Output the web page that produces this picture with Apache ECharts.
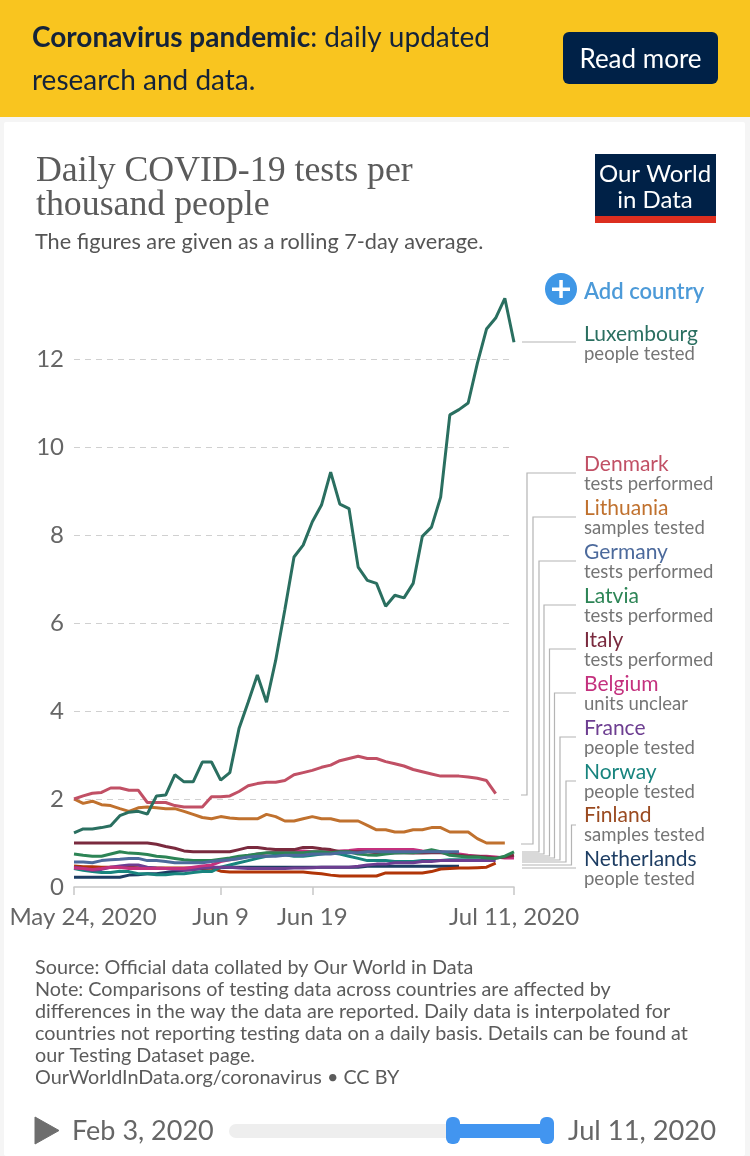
<!DOCTYPE html>
<html><head><meta charset="utf-8">
<style>html,body{margin:0;padding:0;background:#f5f5f5}#c{width:750px;height:1156px}</style>
<script src="https://cdn.jsdelivr.net/npm/echarts@6/dist/echarts.min.js"></script>
</head><body><div id="c"></div>
<script>
const startDate = Date.UTC(2020,4,24);
const dates = Array.from({length:49},(_,i)=>new Date(startDate+i*864e5).toISOString().slice(0,10));
const tickLabels = {'2020-05-24':'May 24, 2020','2020-06-09':'Jun 9','2020-06-19':'Jun 19','2020-07-11':'Jul 11, 2020'};
const luxembourg = [1.23,1.32,1.32,1.35,1.39,1.62,1.7,1.72,1.66,2.07,2.09,2.55,2.39,2.39,2.84,2.84,2.43,2.6,3.6,4.2,4.82,4.2,5.15,6.3,7.5,7.77,8.3,8.68,9.43,8.7,8.6,7.27,6.97,6.9,6.38,6.63,6.57,6.9,7.97,8.18,8.86,10.73,10.85,11,11.9,12.68,12.93,13.38,12.38];
const denmark = [2.0,2.07,2.13,2.15,2.25,2.25,2.2,2.2,1.92,1.92,1.92,1.85,1.82,1.82,1.82,2.05,2.05,2.07,2.17,2.3,2.35,2.38,2.38,2.42,2.55,2.6,2.65,2.72,2.77,2.87,2.92,2.97,2.92,2.92,2.85,2.8,2.75,2.67,2.62,2.57,2.52,2.52,2.52,2.5,2.47,2.42,2.12];
const lithuania = [2.0,1.9,1.95,1.87,1.85,1.78,1.72,1.8,1.82,1.8,1.78,1.78,1.72,1.65,1.58,1.55,1.6,1.57,1.55,1.55,1.55,1.65,1.6,1.5,1.5,1.55,1.6,1.55,1.55,1.5,1.5,1.5,1.4,1.3,1.3,1.25,1.25,1.3,1.3,1.35,1.35,1.25,1.25,1.25,1.1,1.0,1.0,1.0];
const germany = [.57,.57,.55,.6,.62,.63,.65,.65,.6,.6,.58,.55,.55,.55,.55,.58,.6,.62,.65,.68,.7,.7,.7,.72,.72,.72,.75,.75,.75,.78,.78,.78,.8,.8,.8,.8,.8,.8,.8,.8,.8,.8,.8];
const latvia = [.75,.72,.7,.7,.75,.8,.77,.76,.74,.7,.68,.65,.62,.6,.6,.6,.63,.66,.7,.72,.75,.78,.78,.78,.78,.78,.8,.8,.78,.8,.8,.75,.73,.72,.75,.77,.78,.78,.8,.85,.8,.72,.7,.68,.68,.66,.65,.7,.8];
const italy = [1,1,1,1,1,1,1,1,1,.97,.92,.88,.82,.8,.8,.8,.8,.8,.85,.9,.9,.87,.85,.85,.85,.9,.9,.87,.85,.8,.8,.8,.8,.78,.77,.78,.78,.77,.77,.78,.78,.76,.72,.7,.7,.68,.66,.68,.72];
const belgium = [.43,.42,.4,.42,.45,.45,.42,.42,.42,.42,.42,.42,.42,.45,.48,.5,.58,.62,.65,.7,.75,.77,.8,.82,.82,.82,.8,.8,.8,.82,.83,.85,.85,.85,.85,.85,.85,.85,.82,.8,.8,.78,.75,.72,.7,.7,.68,.66,.66];
const france = [.45,.42,.38,.4,.45,.48,.5,.5,.45,.43,.42,.4,.38,.4,.43,.45,.45,.45,.43,.42,.42,.42,.42,.42,.43,.43,.44,.45,.45,.45,.45,.47,.5,.52,.52,.55,.55,.55,.58,.58,.6,.6,.6,.6,.6,.6,.6];
const norway = [.42,.38,.35,.33,.33,.36,.35,.3,.3,.28,.28,.3,.3,.33,.35,.35,.45,.5,.55,.6,.65,.7,.72,.73,.7,.7,.72,.75,.78,.75,.7,.65,.6,.6,.6,.58,.58,.58,.6,.6,.6,.62,.62,.62,.62,.6];
const finland = [.48,.46,.46,.45,.45,.45,.45,.44,.43,.43,.43,.43,.43,.43,.43,.43,.36,.34,.34,.34,.34,.34,.34,.34,.34,.34,.32,.3,.27,.25,.25,.25,.25,.25,.32,.32,.32,.32,.32,.35,.41,.42,.43,.43,.44,.45,.54];
const netherlands = [.22,.22,.22,.22,.22,.22,.27,.28,.3,.3,.33,.35,.38,.4,.42,.43,.44,.45,.45,.45,.45,.45,.45,.45,.45,.45,.45,.45,.45,.45,.45,.45,.47,.47,.47,.47,.47,.47,.47,.47,.47,.47,.47];
const yTicks = [0,2,4,6,8,10,12];

const seriesNames = ['Netherlands','Finland','Norway','France','Belgium','Italy','Latvia','Germany','Lithuania','Denmark','Luxembourg'];
const seriesValues = [netherlands,finland,norway,france,belgium,italy,latvia,germany,lithuania,denmark,luxembourg];
const seriesColors = ['#1d3d63','#b13507','#18847e','#6d3e91','#c4317e','#7a2a3e','#2c8455','#4c6a9c','#c0712e','#c15065','#2a6f60'];

const FONT = 'Lato, "Open Sans", sans-serif';
const sideLabels = [
 ['Luxembourg','people tested','#2a6f60',334],
 ['Denmark','tests performed','#c15065',464],
 ['Lithuania','samples tested','#c0712e',508],
 ['Germany','tests performed','#4c6a9c',552],
 ['Latvia','tests performed','#2c8455',596],
 ['Italy','tests performed','#7a2a3e',640],
 ['Belgium','units unclear','#c4317e',684],
 ['France','people tested','#6d3e91',728],
 ['Norway','people tested','#18847e',772],
 ['Finland','samples tested','#9a4a20',815],
 ['Netherlands','people tested','#1d3d63',859]
];
const connectors = [
 [[522,342],[576,342]],
 [[521,795],[527,795],[527,473],[576,473]],
 [[521,844],[533,844],[533,517],[576,517]],
 [[522,852],[539,852],[539,561],[576,561]],
 [[522,854],[544,854],[544,605],[576,605]],
 [[522,856],[549.5,856],[549.5,649],[576,649]],
 [[522,858],[554.5,858],[554.5,693],[576,693]],
 [[522,860],[560,860],[560,737],[576,737]],
 [[522,862],[566,862],[566,781],[576,781]],
 [[522,865],[571.5,865],[571.5,825],[576,825]],
 [[522,868],[576,868]]
];
const sourceLines = ['Source: Official data collated by Our World in Data',
 'Note: Comparisons of testing data across countries are affected by',
 'differences in the way the data are reported. Daily data is interpolated for',
 "countries not reporting testing data on a daily basis. Details can be found at",
 'our Testing Dataset page.',
 'OurWorldInData.org/coronavirus • CC BY'];

function T(x,y,text,size,fill,extra){return Object.assign({type:'text',x,y,z:10,style:Object.assign({text,fontFamily:FONT,fontSize:size,fill,textVerticalAlign:'middle',textBaseline:'middle'},extra||{})});}
function R(x,y,w,h,fill,r){return {type:'rect',z:1,shape:{x,y,width:w,height:h,r:r||0},style:{fill}};}

const g = [
 Object.assign(R(4,122,741,1034,'#ffffff',2),{z:-1}),
 R(0,0,750,117,'#f9c51f'),
 {type:'text',x:32,y:38,z:10,style:{text:'{b|Coronavirus pandemic}{n|: daily updated}',textVerticalAlign:'middle',textBaseline:'middle',rich:{b:{fontFamily:FONT,fontSize:28,fontWeight:700,fill:'#14233a',color:'#14233a'},n:{fontFamily:FONT,fontSize:28,fill:'#14233a',color:'#14233a'}}}},
 T(32,81,'research and data.',28,'#14233a'),
 Object.assign(R(563,32,155,52,'#002147',6),{z:5}),
 T(640.5,60,'Read more',26,'#ffffff',{textAlign:'center'}),
 T(36,172,'Daily COVID-19 tests per',35.8,'#5b5b5b',{fontFamily:'"Liberation Serif",serif'}),
 T(36,206,'thousand people',35.8,'#5b5b5b',{fontFamily:'"Liberation Serif",serif'}),
 T(35,242,'The figures are given as a rolling 7-day average.',21.7,'#555555'),
 Object.assign(R(595,154,121,62,'#002147'),{z:5}),
 Object.assign(R(595,216,121,7,'#dc2e1f'),{z:5}),
 T(655,174,'Our World',24,'#ffffff',{textAlign:'center'}),
 T(655,200,'in Data',24,'#ffffff',{textAlign:'center'}),
 {type:'circle',z:5,shape:{cx:561,cy:289,r:16},style:{fill:'#3f97e6'}},
 Object.assign(R(552,287.5,18,3.5,'#ffffff'),{z:6}),
 Object.assign(R(559.3,280,3.5,18,'#ffffff'),{z:6}),
 T(584,292,'Add country',22,'#4c9ad8',{fontWeight:600})
];
connectors.forEach(p=>g.push({type:'polyline',z:3,shape:{points:p},style:{stroke:'#b4b4b4',lineWidth:1.2,fill:null}}));
sideLabels.forEach(l=>{
 g.push(T(584,l[3],l[0],21,l[2]));
 g.push(T(584,l[3]+20,l[1],18.5,'#757575'));
});
sourceLines.forEach((s,i)=>g.push(T(35,968+i*22,s,19.8,'#5b5b5b')));
g.push(
 {type:'polygon',z:5,shape:{points:[[35,1117],[35,1144],[59,1130.5]]},style:{fill:'#6e6e6e',lineJoin:'round',stroke:'#6e6e6e',lineWidth:1}},
 T(72,1131,'Feb 3, 2020',27,'#666666'),
 Object.assign(R(229,1124,225,14,'#eeeeee',7),{z:4}),
 Object.assign(R(450,1124,100,14,'#4295f0'),{z:5}),
 Object.assign(R(446,1117,14,27,'#4295f0',6),{z:6}),
 Object.assign(R(540,1117,14,27,'#4295f0',6),{z:6}),
 T(568,1131,'Jul 11, 2020',27.3,'#666666')
);

const chart = echarts.init(document.getElementById('c'),null,{renderer:'canvas',width:750,height:1156});
chart.setOption({
 animation:false,
 backgroundColor:'#f5f5f5',
 grid:{left:74,right:236,top:271,bottom:269,containLabel:false},
 xAxis:{type:'category',data:dates,boundaryGap:false,
  axisLine:{lineStyle:{color:'#c8c8c8',width:1.5}},
  axisTick:{length:8,alignWithLabel:true,lineStyle:{color:'#c8c8c8',width:1.5},interval:(i,v)=>v in tickLabels},
  axisLabel:{margin:18,fontFamily:FONT,fontSize:24,color:'#666666',showMinLabel:true,showMaxLabel:true,hideOverlap:false,
   interval:(i,v)=>v in tickLabels,
   formatter:v=>v==='2020-05-24'?'{first|'+tickLabels[v]+'}':tickLabels[v],
   rich:{first:{fontFamily:FONT,fontSize:24,color:'#666666',padding:[0,0,0,18]}}},
  splitLine:{show:false}},
 yAxis:{type:'value',min:0,max:14,interval:2,
  axisLine:{show:false},axisTick:{show:false},
  axisLabel:{margin:10,fontFamily:FONT,fontSize:24,color:'#666666',formatter:v=>yTicks.includes(v)?String(v):''},
  splitLine:{showMinLine:false,showMaxLine:false,lineStyle:{type:[6,5],color:'#d0d0d0',width:1}}},
 series:seriesNames.map((n,i)=>({name:n,type:'line',data:seriesValues[i],symbol:'none',smooth:false,z:3+i,
  lineStyle:{color:seriesColors[i],width:3}})),
 graphic:g
});
</script></body></html>
